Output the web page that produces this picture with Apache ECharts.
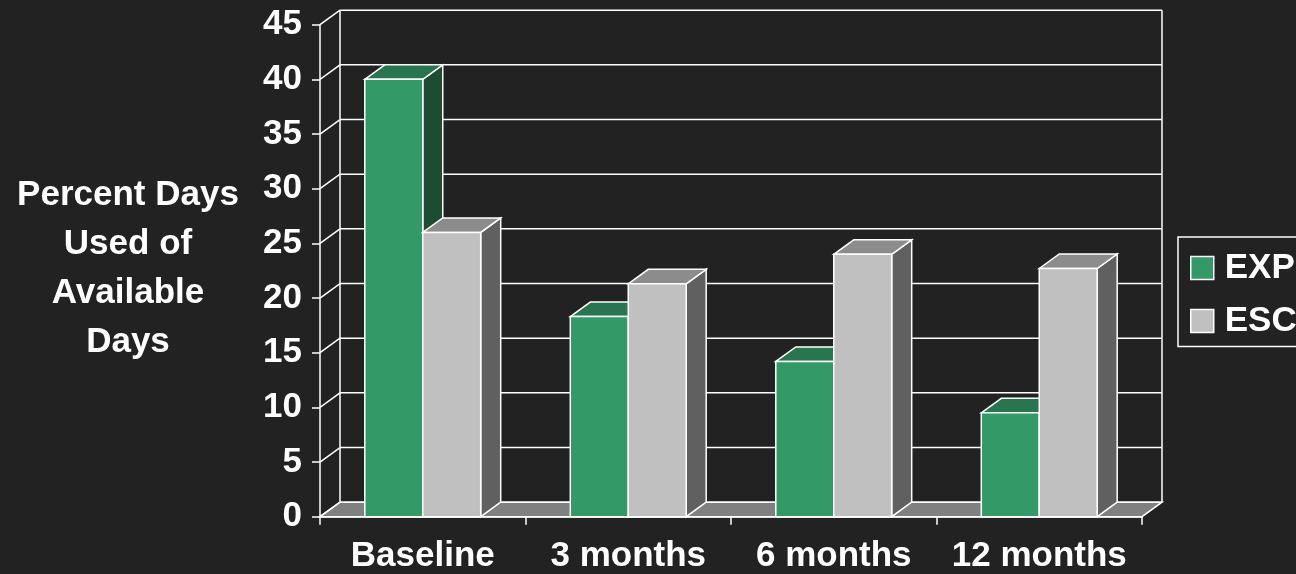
<!DOCTYPE html>
<html>
<head>
<meta charset="utf-8">
<script src="https://cdn.jsdelivr.net/npm/echarts@6/dist/echarts.min.js"></script>
<style>
  html, body { margin: 0; padding: 0; background: #222222; }
  #chart { width: 1296px; height: 574px; }
</style>
</head>
<body>
<div id="chart"></div>
<script>
// Share of available days used, by follow-up point
const categories = ['Baseline', '3 months', '6 months', '12 months'];
const expValues = [40, 18.3, 14.2, 9.5];
const escValues = [26, 21.3, 24, 22.7];
const yTicks = [0, 5, 10, 15, 20, 25, 30, 35, 40, 45];
const seriesNames = ['EXP', 'ESC'];
const yTitle = 'Percent Days\nUsed of\nAvailable\nDays';

const FONT = '"Liberation Sans", Arial, Helvetica, sans-serif';
const DX = 20, DY = -14.5;      // depth offset used for the walls and the bar blocks
const BAR_FRAC = 0.282;         // bar width as a share of one category band
const LINE = '#ffffff';
const LW = 1.5;
const palette = {
  EXP: { front: '#339966', top: '#28754f', side: '#1c4d33' },
  ESC: { front: '#c0c0c0', top: '#8c8c8c', side: '#606060' }
};

// Back wall, left wall and floor of the pseudo-3D plot area
function wallRenderer(params, api) {
  const cs = params.coordSys;
  const xl = cs.x, xr = cs.x + cs.width;
  const y0 = api.coord([0, 0])[1];
  const yTop = api.coord([0, yTicks[yTicks.length - 1]])[1];
  const line = { stroke: LINE, lineWidth: LW };
  const children = [];
  children.push({
    type: 'polygon',
    shape: { points: [[xl, y0], [xl + DX, y0 + DY], [xr + DX, y0 + DY], [xr, y0]] },
    style: { fill: '#808080', stroke: LINE, lineWidth: LW }
  });
  yTicks.forEach(function (t) {
    const y = api.coord([0, t])[1];
    children.push({ type: 'line', shape: { x1: xl, y1: y, x2: xl + DX, y2: y + DY }, style: line });
    children.push({ type: 'line', shape: { x1: xl + DX, y1: y + DY, x2: xr + DX, y2: y + DY }, style: line });
  });
  children.push({ type: 'line', shape: { x1: xl + DX, y1: yTop + DY, x2: xl + DX, y2: y0 + DY }, style: line });
  children.push({ type: 'line', shape: { x1: xr + DX, y1: yTop + DY, x2: xr + DX, y2: y0 + DY }, style: line });
  return { type: 'group', children: children };
}

// One block per value: side face, top face, then the front face
function barRenderer(name, dir) {
  const c = palette[name];
  return function (params, api) {
    const ci = api.value(0), v = api.value(1);
    const base = api.coord([ci, 0]);
    const top = api.coord([ci, v]);
    const w = api.size([1, 0])[0] * BAR_FRAC;
    const x0 = dir < 0 ? base[0] - w : base[0];
    const x1 = x0 + w;
    const yb = base[1], yt = top[1];
    const st = function (fill) { return { fill: fill, stroke: LINE, lineWidth: LW, lineJoin: 'miter' }; };
    return {
      type: 'group',
      children: [
        { type: 'polygon', shape: { points: [[x1, yb], [x1, yt], [x1 + DX, yt + DY], [x1 + DX, yb + DY]] }, style: st(c.side) },
        { type: 'polygon', shape: { points: [[x0, yt], [x0 + DX, yt + DY], [x1 + DX, yt + DY], [x1, yt]] }, style: st(c.top) },
        { type: 'rect', shape: { x: x0, y: yt, width: w, height: yb - yt }, style: st(c.front) }
      ]
    };
  };
}

const textBase = { color: '#ffffff', fontWeight: 'bold', fontFamily: FONT, fontSize: 35 };

const chart = echarts.init(document.getElementById('chart'), null, { renderer: 'canvas' });
chart.setOption({
  backgroundColor: '#222222',
  animation: false,
  grid: { left: 320, right: 154, top: 24.7, bottom: 57.3, containLabel: false, outerBoundsMode: 'none' },
  xAxis: {
    type: 'category',
    data: categories,
    boundaryGap: true,
    axisLine: { show: true, lineStyle: { color: LINE, width: LW } },
    axisTick: { show: true, length: 8, lineStyle: { color: LINE, width: LW } },
    axisLabel: Object.assign({ margin: 22, lineHeight: 35, interval: 0 }, textBase),
    splitLine: { show: false }
  },
  yAxis: {
    type: 'value',
    min: yTicks[0],
    max: yTicks[yTicks.length - 1],
    interval: yTicks[1] - yTicks[0],
    axisLine: { show: true, lineStyle: { color: LINE, width: LW } },
    axisTick: { show: true, length: 8, lineStyle: { color: LINE, width: LW } },
    axisLabel: Object.assign({ margin: 18 }, textBase),
    splitLine: { show: false }
  },
  legend: {
    orient: 'vertical',
    left: 1178,
    top: 237,
    padding: [13.5, 12, 8, 12],
    itemWidth: 23,
    itemHeight: 23,
    itemGap: 18,
    borderColor: '#ffffff',
    borderWidth: LW,
    icon: 'rect',
    selectedMode: false,
    textStyle: Object.assign({ lineHeight: 23, padding: [0, 0, 0, 6] }, textBase),
    data: seriesNames.map(function (n) {
      return { name: n, itemStyle: { color: palette[n].front, borderColor: '#ffffff', borderWidth: LW } };
    })
  },
  graphic: [{
    type: 'text',
    x: 128,
    y: 268.5,
    style: {
      text: yTitle,
      align: 'center',
      verticalAlign: 'middle',
      lineHeight: 49,
      fill: '#ffffff',
      font: 'bold 35px ' + FONT
    }
  }],
  series: [
    {
      type: 'custom', name: 'walls', z: 1, silent: true, clip: false,
      renderItem: wallRenderer,
      data: [[0, 0]]
    },
    {
      type: 'custom', name: seriesNames[0], z: 3, clip: false,
      itemStyle: { color: palette.EXP.front },
      renderItem: barRenderer('EXP', -1),
      data: expValues.map(function (v, i) { return [i, v]; })
    },
    {
      type: 'custom', name: seriesNames[1], z: 3, clip: false,
      itemStyle: { color: palette.ESC.front },
      renderItem: barRenderer('ESC', 1),
      data: escValues.map(function (v, i) { return [i, v]; })
    }
  ]
});
</script>
</body>
</html>
